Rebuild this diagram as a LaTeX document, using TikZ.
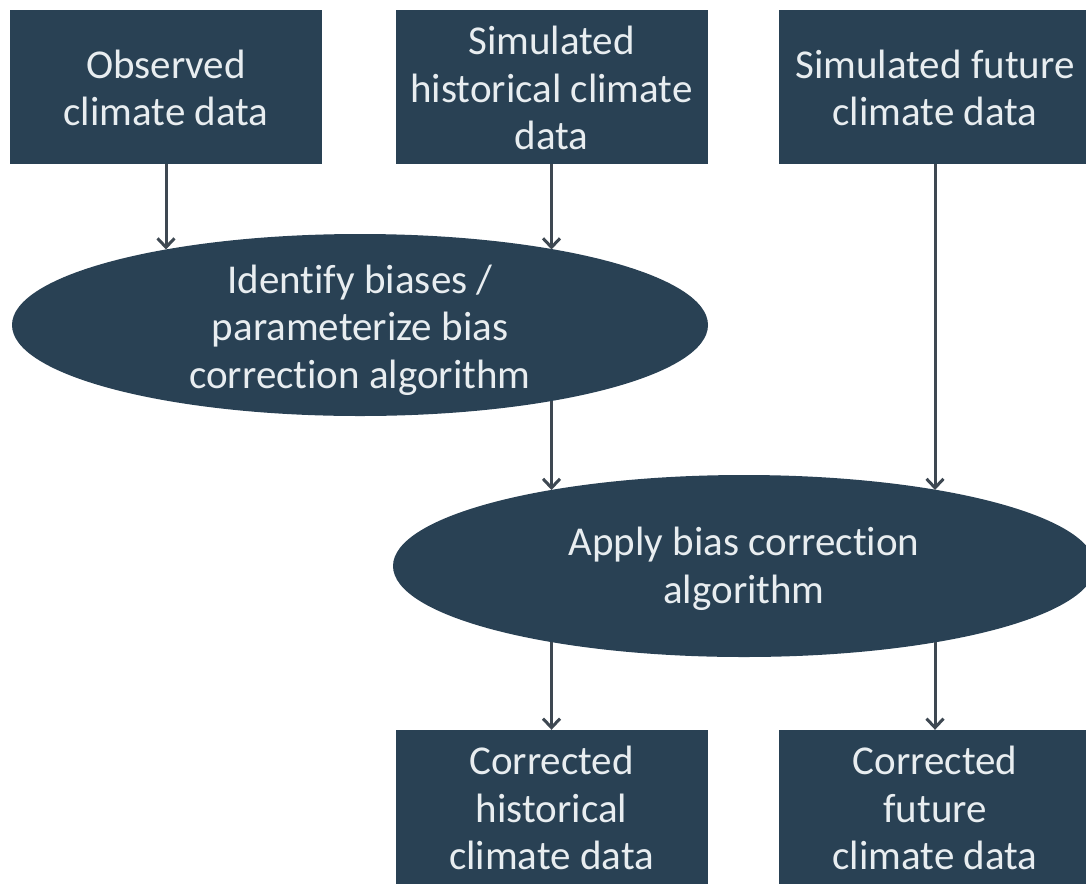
\documentclass[tikz,border=0pt]{standalone}
\usepackage{fontspec}
\setmainfont{Carlito}[Ligatures=NoCommon]
\usetikzlibrary{arrows.meta,shapes.geometric}
\definecolor{boxfill}{RGB}{41,65,84}
\definecolor{boxtext}{RGB}{232,237,240}
\definecolor{arrowcol}{RGB}{62,72,82}
\tikzset{
  stepbox/.style={rectangle, fill=boxfill, draw=none, minimum width=312pt, minimum height=154pt, inner sep=0pt},
  oval/.style={ellipse, fill=boxfill, draw=none, inner sep=0pt},
  label/.style={text=boxtext, align=center, font=\fontsize{41}{47.5}\selectfont, inner sep=0pt},
  flow/.style={draw=arrowcol, line width=3pt, -{Straight Barb[length=9pt,width=17pt]}}
}
\begin{document}
\begin{tikzpicture}[x=1pt,y=-1pt]
\useasboundingbox (0,0) rectangle (1086,884);
% top boxes
\node[stepbox] (b1) at (166,86.5) {};
\node[label] (t1) at (166,88) {Observed\\climate data};
\node[stepbox] (b2) at (551.5,86.5) {};
\node[label] (t2) at (551.5,88) {Simulated\\historical climate\\data};
\node[stepbox] (b3) at (935,86.5) {};
\node[label] (t3) at (935,88) {Simulated future\\climate data};
% ellipses
\node[oval, minimum width=696pt, minimum height=182pt] (e1) at (360,325) {};
\node[label] (te1) at (360,330) {Identify biases /\\parameterize bias\\correction algorithm};
\node[oval, minimum width=702pt, minimum height=182pt] (e2) at (744,566) {};
\node[label] (te2) at (744,569) {Apply bias correction\\algorithm};
% bottom boxes
\node[stepbox] (b4) at (551.5,807) {};
\node[label] (t4) at (551.5,808) {Corrected\\historical\\climate data};
\node[stepbox] (b5) at (935,807) {};
\node[label] (t5) at (935,808) {Corrected\\future\\climate data};
% boundary points on the ellipses
\coordinate (e1inL) at (166,249.5);
\coordinate (e1inR) at (551.5,249.5);
\coordinate (e1out) at (551.5,400.5);
\coordinate (e2inL) at (551.5,490);
\coordinate (e2inR) at (935,490);
\coordinate (e2outL) at (551.5,642);
\coordinate (e2outR) at (935,642);
% connectors
\draw[flow] (b1.south) -- (e1inL);
\draw[flow] (b2.south) -- (e1inR);
\draw[flow] (e1out) -- (e2inL);
\draw[flow] (b3.south) -- (e2inR);
\draw[flow] (e2outL) -- (b4.north);
\draw[flow] (e2outR) -- (b5.north);
\end{tikzpicture}
\end{document}
